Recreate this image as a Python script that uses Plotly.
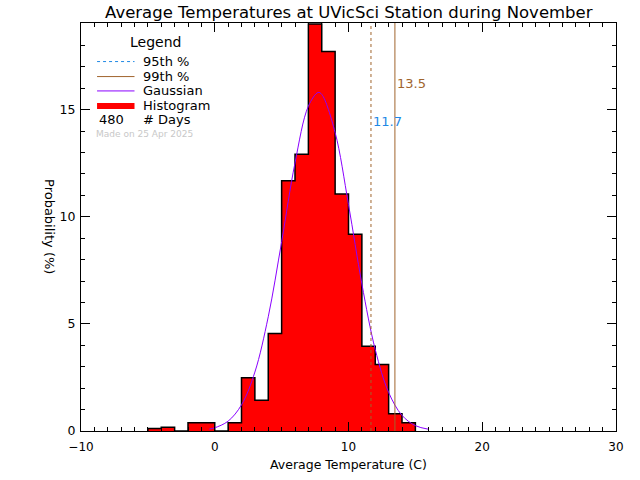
import plotly.graph_objects as go

# ---- data ----
bin_left = [-5, -4, -3, -2, -1, 0, 1, 2, 3, 4, 5, 6, 7, 8, 9, 10, 11, 12, 13, 14]
prob_pct = [0.12, 0.17, 0.0, 0.39, 0.39, 0.0, 0.39, 2.49, 1.43, 4.55, 11.68, 12.92,
            18.99, 17.71, 11.06, 9.18, 3.96, 3.10, 0.81, 0.39]
bin_width = 1.0

gauss_x = [-0.4, 0, 1, 2, 3, 4, 5, 6, 7, 7.73, 8, 9, 10, 11, 12, 13, 14, 15, 16]
gauss_y = [0.09, 0.15, 0.46, 1.22, 2.75, 5.33, 8.83, 12.51, 15.16, 15.8, 15.71, 13.93,
           10.57, 6.86, 3.80, 1.80, 0.73, 0.25, 0.08]

p95 = 11.68
p99 = 13.47
n_days = 480
made_on = "Made on 25 Apr 2025"
title = "Average Temperatures at UVicSci Station during November"

x_ticks = [-10, 0, 10, 20, 30]
y_ticks = [0, 5, 10, 15]

# ---- styles ----
FONT = "DejaVu Sans"
RED = "#ff0000"
BROWN = "#a0642d"
BLUE = "#1e88e5"
PURPLE = "#8a00ff"

centers = [b + bin_width / 2 for b in bin_left]
step_x = [bin_left[0]] + bin_left + [bin_left[-1] + bin_width]
step_y = [0] + prob_pct + [0]

fig = go.Figure()
fig.add_trace(go.Bar(x=centers, y=prob_pct, width=bin_width,
                     marker=dict(color=RED, line=dict(width=0)), hoverinfo="skip"))
fig.add_trace(go.Scatter(x=step_x, y=step_y, mode="lines", line_shape="hv",
                         line=dict(color="black", width=1.5)))
fig.add_trace(go.Scatter(x=gauss_x, y=gauss_y, mode="lines", line_shape="spline",
                         line=dict(color=PURPLE, width=1)))

shapes = [
    dict(type="line", xref="x", yref="paper", x0=p95, x1=p95, y0=0, y1=1,
         line=dict(color=BROWN, width=1, dash="dot")),
    dict(type="line", xref="x", yref="paper", x0=p99, x1=p99, y0=0, y1=1,
         line=dict(color=BROWN, width=1)),
]
annotations = [
    dict(x=p99, y=16.2, xref="x", yref="y", text=f"{p99:.1f}", showarrow=False,
         xanchor="left", yanchor="middle", font=dict(family=FONT, size=13, color=BROWN)),
    dict(x=p95, y=14.44, xref="x", yref="y", text=f"{p95:.1f}", showarrow=False,
         xanchor="left", yanchor="middle", font=dict(family=FONT, size=13, color=BLUE)),
]

# manual legend (data coordinates of the top-left empty region)
lx0, lx1, ltx = -8.8, -6.0, -5.55
rows = [17.24, 16.54, 15.87, 15.17, 14.52]
annotations.append(dict(x=-4.43, y=18.15, xref="x", yref="y", text="Legend", showarrow=False,
                        xanchor="center", yanchor="middle",
                        font=dict(family=FONT, size=14, color="black")))
leg = [("95th %", dict(color=BLUE, width=1, dash="dot")),
       ("99th %", dict(color=BROWN, width=1)),
       ("Gaussian", dict(color=PURPLE, width=1)),
       ("Histogram", dict(color=RED, width=6))]
for (lab, ln), ry in zip(leg, rows):
    shapes.append(dict(type="line", xref="x", yref="y", x0=lx0, x1=lx1, y0=ry, y1=ry, line=ln))
    annotations.append(dict(x=ltx, y=ry, xref="x", yref="y", text=lab, showarrow=False,
                            xanchor="left", yanchor="middle",
                            font=dict(family=FONT, size=13, color="black")))
annotations.append(dict(x=-7.7, y=rows[4], xref="x", yref="y", text=str(n_days), showarrow=False,
                        xanchor="center", yanchor="middle",
                        font=dict(family=FONT, size=13, color="black")))
annotations.append(dict(x=ltx, y=rows[4], xref="x", yref="y", text="# Days", showarrow=False,
                        xanchor="left", yanchor="middle",
                        font=dict(family=FONT, size=13, color="black")))
annotations.append(dict(x=-9.0, y=13.85, xref="x", yref="y", text=made_on, showarrow=False,
                        xanchor="left", yanchor="middle",
                        font=dict(family=FONT, size=9, color="#c8c8c8")))

# axis titles
annotations.append(dict(x=0.5, y=-0.081, xref="paper", yref="paper", text="Average Temperature (C)",
                        showarrow=False, xanchor="center", yanchor="middle",
                        font=dict(family=FONT, size=12.5, color="black")))
annotations.append(dict(x=-0.058, y=0.5, xref="paper", yref="paper", text="Probability (%)",
                        showarrow=False, xanchor="center", yanchor="middle", textangle=90,
                        font=dict(family=FONT, size=13, color="black")))

fig.update_layout(
    width=640, height=480,
    margin=dict(l=81, r=24, t=23, b=49),
    paper_bgcolor="white", plot_bgcolor="white",
    showlegend=False,
    bargap=0,
    hovermode=False,
    title=dict(text=title, x=0.545, xanchor="center", y=0.975, yanchor="middle",
               font=dict(family=FONT, size=16.5, color="black")),
    shapes=shapes, annotations=annotations,
    font=dict(family=FONT, size=13, color="black"),
)
fig.update_xaxes(range=[-10, 30], tickvals=x_ticks, ticks="inside", ticklen=9, tickwidth=1,
                 tickcolor="black", showgrid=False, zeroline=False, showline=True,
                 linecolor="black", linewidth=1, mirror="ticks", ticklabelstandoff=5,
                 minor=dict(dtick=1, tick0=0, ticks="inside", ticklen=4, tickcolor="black",
                            showgrid=False),
                 tickfont=dict(family=FONT, size=12))
fig.update_yaxes(range=[0, 19.04], tickvals=y_ticks, ticks="inside", ticklen=9, tickwidth=1,
                 tickcolor="black", showgrid=False, zeroline=False, showline=True,
                 linecolor="black", linewidth=1, mirror="ticks", ticklabelstandoff=2,
                 minor=dict(dtick=1, tick0=0, ticks="inside", ticklen=4, tickcolor="black",
                            showgrid=False),
                 tickfont=dict(family=FONT, size=12.5))

fig.write_html("out.html", config={"displayModeBar": False},
               post_script="document.body.style.margin='0';")
